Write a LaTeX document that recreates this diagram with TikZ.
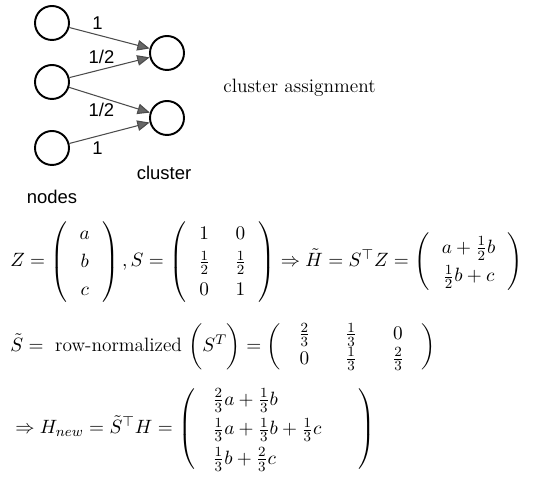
\documentclass[tikz,border=0pt]{standalone}
\usepackage{amsmath}
\usepackage{fontspec}
\newfontfamily\labelfont{Liberation Sans}
\usetikzlibrary{arrows.meta}

\begin{document}
\begin{tikzpicture}[every node/.style={inner sep=0pt},
    vertex/.style={circle, draw, line width=1.1pt, minimum size=0.68cm},
    weight/.style={font=\labelfont\fontsize{10.5}{12}\selectfont},
    edge/.style={draw=black!70, line width=0.6pt, -{Triangle[length=7pt,width=6pt,fill=black!60]}},
    eqn/.style={anchor=west, font=\fontsize{11}{14}\selectfont}]
    \useasboundingbox (0,0) rectangle (10.76,-9.54);
    % nodes and clusters
    \node[vertex] (n1) at (1.04,-0.46) {};
    \node[vertex] (n2) at (1.04,-1.64) {};
    \node[vertex] (n3) at (1.04,-2.96) {};
    \node[vertex] (c1) at (3.34,-1.06) {};
    \node[vertex] (c2) at (3.34,-2.36) {};
    \draw[edge] (n1) -- node[weight, pos=0.35, above=3pt] {1} (c1);
    \draw[edge] (n2) -- node[weight, pos=0.4, above=3pt] {1/2} (c1);
    \draw[edge] (n2) -- node[weight, pos=0.4, below=3pt] {1/2} (c2);
    \draw[edge] (n3) -- node[weight, pos=0.35, below=3pt] {1} (c2);
    \node[weight] (clab) at (3.28,-3.46) {cluster};
    \node[weight] (nlab) at (1.04,-3.94) {nodes};
    \node[anchor=west, font=\fontsize{11}{13}\selectfont] (assign) at (4.46,-1.76) {cluster assignment};
    % equations
    \node[eqn] (eq1) at (0.2,-5.24) {$\arraycolsep=7pt \renewcommand{\arraystretch}{1.15}
        Z=\left(\begin{array}{c} a\\ b\\ c \end{array}\right),
        S=\left(\begin{array}{cc} 1 & 0\\ \frac{1}{2} & \frac{1}{2}\\ 0 & 1 \end{array}\right)
        \Rightarrow \tilde{H}=S^{\top}Z=\left(\begin{array}{c} a+\frac{1}{2}b\\ \frac{1}{2}b+c \end{array}\right)$};
    \node[eqn] (eq2) at (0.2,-6.94) {$\arraycolsep=10pt
        \tilde{S}=\text{ row-normalized }\biggl(S^{T}\biggr)
        =\left(\begin{array}{ccc} \frac{2}{3} & \frac{1}{3} & 0\\ 0 & \frac{1}{3} & \frac{2}{3} \end{array}\right)$};
    \node[eqn] (eq3) at (0.3,-8.58) {$\arraycolsep=10pt \renewcommand{\arraystretch}{1.2}
        \Rightarrow H_{new}=\tilde{S}^{\top}H=\left(\begin{array}{l}
        \frac{2}{3}a+\frac{1}{3}b\\ \frac{1}{3}a+\frac{1}{3}b+\frac{1}{3}c\\ \frac{1}{3}b+\frac{2}{3}c \end{array}\quad\right)$};
\end{tikzpicture}
\end{document}
